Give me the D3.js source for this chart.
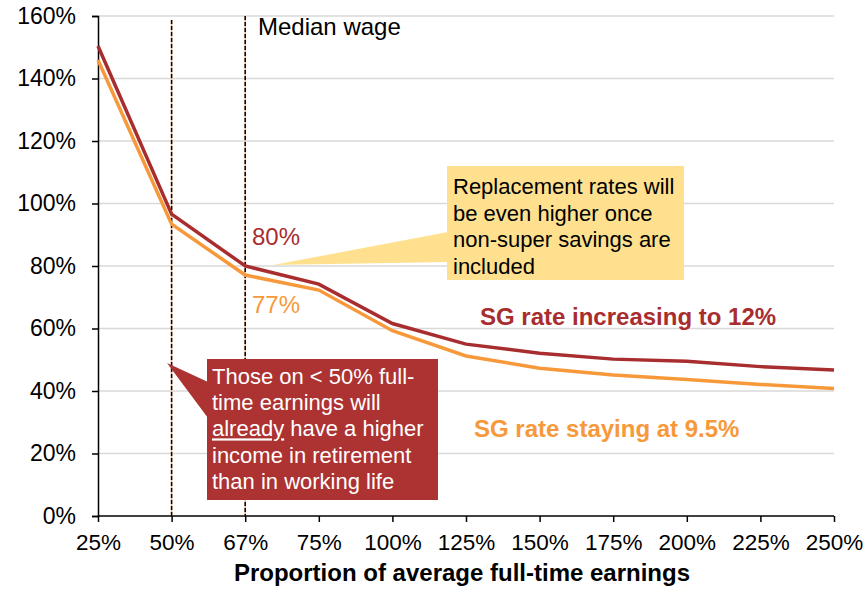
<!DOCTYPE html>
<html>
<head>
<meta charset="utf-8">
<script src="https://cdn.jsdelivr.net/npm/d3@7"></script>
<style>
  body { margin: 0; background: #fff; }
  text { font-family: Arial, "Liberation Sans", sans-serif; }
</style>
</head>
<body>
<div class="container"></div>
<script>
// ----- DATA -----
const categories = ["25%", "50%", "67%", "75%", "100%", "125%", "150%", "175%", "200%", "225%", "250%"];
const sgIncreasing = [150.4, 96.6, 80, 74.2, 61.6, 55, 52.1, 50.2, 49.5, 47.8, 46.7];
const sgStaying = [145.9, 93.4, 77.1, 72.3, 59.3, 51.2, 47.3, 45.1, 43.7, 42.1, 40.8];
const yTicks = [0, 20, 40, 60, 80, 100, 120, 140, 160];
const markers = ["50%", "67%"];

const w = 865;
const h = 590;
const darkRed = "#a82d2f";
const orange = "#f7993a";

const svg = d3.select(".container")
  .append("svg")
  .attr("width", w)
  .attr("height", h);

// ----- SCALES -----
const xScale = d3.scalePoint()
  .domain(categories)
  .range([98, 834]);

const yScale = d3.scaleLinear()
  .domain([0, 160])
  .range([516, 16]);

// gridlines
svg.append("g")
  .selectAll("line")
  .data(yTicks.slice(1))
  .enter()
  .append("line")
  .attr("x1", 98)
  .attr("x2", 834)
  .attr("y1", d => yScale(d))
  .attr("y2", d => yScale(d))
  .attr("stroke", "#d9d9d9")
  .attr("stroke-width", 1.3);

// ----- AXES -----
const yAxis = d3.axisLeft(yScale)
  .tickValues(yTicks)
  .tickFormat(d => d + "%")
  .tickSize(6)
  .tickPadding(16);

const yG = svg.append("g")
  .attr("transform", "translate(98,0)")
  .call(yAxis);
yG.select(".domain").attr("stroke", "#000").attr("stroke-width", 1.5);
yG.selectAll(".tick line").attr("stroke", "#000").attr("stroke-width", 1.5);
yG.selectAll("text").style("font-size", "23px").attr("fill", "#000");

const xAxis = d3.axisBottom(xScale)
  .tickSize(6)
  .tickPadding(12);

const xG = svg.append("g")
  .attr("transform", "translate(0,516)")
  .call(xAxis);
xG.select(".domain").attr("stroke", "#000").attr("stroke-width", 1.5)
  .attr("d", "M98,0H834");
xG.selectAll(".tick line").attr("stroke", "#000").attr("stroke-width", 1.5);
xG.selectAll("text").style("font-size", "22.5px").attr("fill", "#000");

svg.append("text")
  .attr("x", 462)
  .attr("y", 581)
  .attr("text-anchor", "middle")
  .style("font-size", "24px")
  .style("font-weight", "bold")
  .text("Proportion of average full-time earnings");

// ----- MARKER LINES (50% and median wage) -----
markers.forEach((m, i) => {
  const x = xScale(m);
  const top = i === 0 ? 20 : 16;
  svg.append("line")
    .attr("x1", x).attr("x2", x)
    .attr("y1", top).attr("y2", 516)
    .attr("stroke", "#f4b183")
    .attr("stroke-width", 1.5);
  svg.append("line")
    .attr("x1", x).attr("x2", x)
    .attr("y1", top).attr("y2", 516)
    .attr("stroke", "#000")
    .attr("stroke-width", 1.5)
    .attr("stroke-dasharray", "4,2");
});

svg.append("text")
  .attr("x", 258)
  .attr("y", 35)
  .style("font-size", "24px")
  .text("Median wage");

// ----- LINES -----
const line = d3.line()
  .x((d, i) => xScale(categories[i]))
  .y(d => yScale(d));

svg.append("path")
  .datum(sgStaying)
  .attr("d", line)
  .attr("fill", "none")
  .attr("stroke", orange)
  .attr("stroke-width", 3.5);

svg.append("path")
  .datum(sgIncreasing)
  .attr("d", line)
  .attr("fill", "none")
  .attr("stroke", darkRed)
  .attr("stroke-width", 3.5);

// value labels at median wage
svg.append("text")
  .attr("x", 252).attr("y", 245)
  .attr("fill", darkRed)
  .style("font-size", "24px")
  .text(sgIncreasing[2] + "%");

svg.append("text")
  .attr("x", 252).attr("y", 313)
  .attr("fill", orange)
  .style("font-size", "24px")
  .text(Math.round(sgStaying[2]) + "%");

// series labels
svg.append("text")
  .attr("x", 480).attr("y", 325)
  .attr("fill", darkRed)
  .style("font-size", "24px")
  .style("font-weight", "bold")
  .text("SG rate increasing to 12%");

svg.append("text")
  .attr("x", 474).attr("y", 437)
  .attr("fill", orange)
  .style("font-size", "24px")
  .style("font-weight", "bold")
  .text("SG rate staying at 9.5%");

// ----- YELLOW CALLOUT -----
const yellow = "#fee08e";
svg.append("path")
  .attr("d", "M273,265L448,232L448,262Z")
  .attr("fill", yellow);
svg.append("rect")
  .attr("x", 447).attr("y", 166)
  .attr("width", 237).attr("height", 114)
  .attr("fill", yellow);

const yLines = ["Replacement rates will", "be even higher once", "non-super savings are", "included"];
svg.append("g")
  .selectAll("text")
  .data(yLines)
  .enter()
  .append("text")
  .attr("x", 453)
  .attr("y", (d, i) => 194 + i * 26.5)
  .style("font-size", "22px")
  .attr("fill", "#000")
  .text(d => d);

// ----- RED CALLOUT -----
const boxRed = "#ad3232";
svg.append("path")
  .attr("d", "M167,363L208,382L208,418Z")
  .attr("fill", boxRed);
svg.append("rect")
  .attr("x", 207).attr("y", 359)
  .attr("width", 231).attr("height", 141)
  .attr("fill", boxRed);

const rLines = ["Those on < 50% full-", "time earnings will", null, "income in retirement", "than in working life"];
const rG = svg.append("g").attr("fill", "#fff").style("font-size", "22px");
rLines.forEach((t, i) => {
  const y = 384 + i * 26.2;
  if (t === null) {
    const tx = rG.append("text").attr("x", 212).attr("y", y);
    tx.append("tspan").style("text-decoration", "underline").text("already");
    tx.append("tspan").text(" have a higher");
  } else {
    rG.append("text").attr("x", 212).attr("y", y).text(t);
  }
});
</script>
</body>
</html>
